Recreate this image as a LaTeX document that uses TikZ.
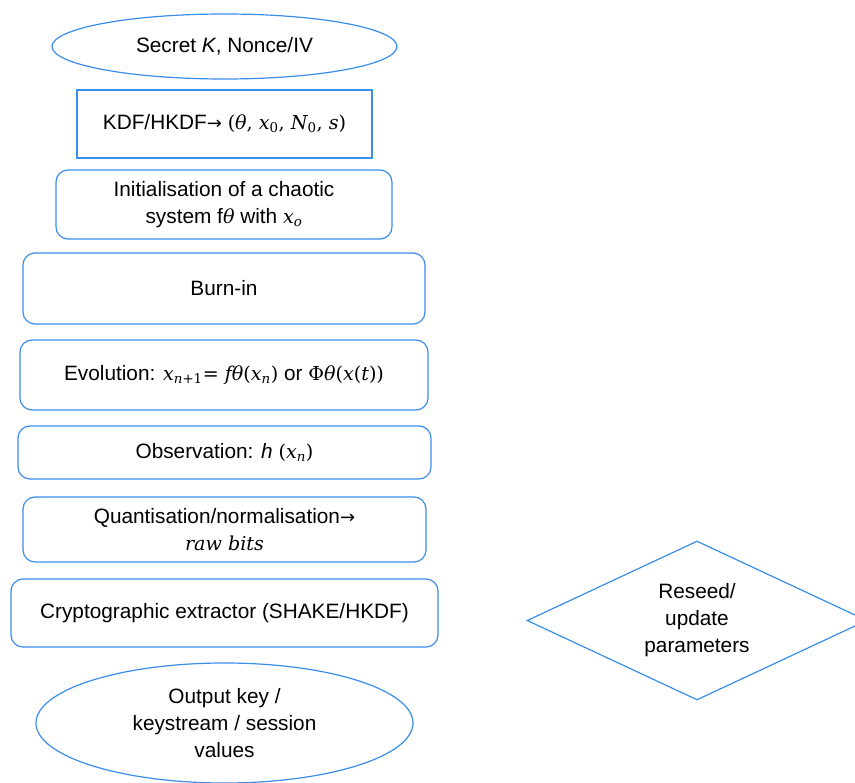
\documentclass[tikz,border=0pt]{standalone}
\usepackage{fontspec}
\setmainfont{Liberation Sans}
\newfontfamily\arrowfont{DejaVu Sans}
\newfontfamily\mathserif[Scale=0.92]{DejaVu Serif}
\usetikzlibrary{shapes.geometric}
\definecolor{lineblue}{HTML}{3A8DEB}
\newcommand{\rarr}{{\arrowfont\fontsize{18}{27}\selectfont →}}
\newcommand{\mi}[1]{{\mathserif\itshape #1}}
\newcommand{\mr}[1]{{\mathserif #1}}
\newcommand{\lowsub}[1]{\textsubscript{#1}}
\tikzset{
  every node/.style={font=\fontsize{20.8}{27}\selectfont, text=black, align=center, inner sep=0pt},
  box/.style={draw=lineblue, line width=1.2pt, rectangle, rounded corners=12pt},
  sharpbox/.style={draw=lineblue, line width=1.2pt, rectangle},
  oval/.style={draw=lineblue, line width=1.2pt, ellipse},
  decision/.style={draw=lineblue, line width=1.2pt, diamond, shape aspect=2.14},
}
\begin{document}
\begin{tikzpicture}[x=1pt,y=-1pt]
\useasboundingbox (0,0) rectangle (855,783);
\node[oval, minimum width=345pt, minimum height=65pt] (secret) at (224.5,46.5) {Secret \textit{K}, Nonce/IV};
\node[sharpbox, minimum width=295pt, minimum height=68pt] (kdf) at (224.5,124) {KDF/HKDF\rarr\ \mr{(}\mi{θ}\mr{, }\mi{x}\lowsub{\mr{0}}\mr{, }\mi{N}\lowsub{\mr{0}}\mr{, }\mi{s}\mr{)}};
\node[box, minimum width=336pt, minimum height=69pt] (init) at (224,204.5) {Initialisation of a chaotic\\system f\mi{θ} with \mi{x}\lowsub{\mi{o}}};
\node[box, minimum width=402pt, minimum height=71pt] (burn) at (224,288.5) {Burn-in};
\node[box, minimum width=408pt, minimum height=70pt] (evol) at (224,375) {Evolution: \mi{x}\lowsub{\mi{n}\mr{+1}}\mr{= }\mi{fθ}\mr{(}\mi{x}\lowsub{\mi{n}}\mr{)} or \mr{Φ}\mi{θ}\mr{(}\mi{x}\mr{(}\mi{t}\mr{))}};
\node[box, minimum width=413pt, minimum height=53pt] (obs) at (224.5,452.5) {Observation: \textit{h} \mr{(}\mi{x}\lowsub{\mi{n}}\mr{)}};
\node[box, minimum width=403pt, minimum height=65pt] (quant) at (224.5,529.5) {Quantisation/normalisation\rarr\\\mi{raw bits}};
\node[box, minimum width=427pt, minimum height=68pt] (extr) at (224.5,613) {Cryptographic extractor (SHAKE/HKDF)};
\node[oval, minimum width=377pt, minimum height=120pt] (out) at (224.5,723) {Output key /\\keystream / session\\values};
\node[decision, minimum width=340pt, minimum height=159pt] (reseed) at (697,620.5) {Reseed/\\update\\parameters};
\end{tikzpicture}
\end{document}
